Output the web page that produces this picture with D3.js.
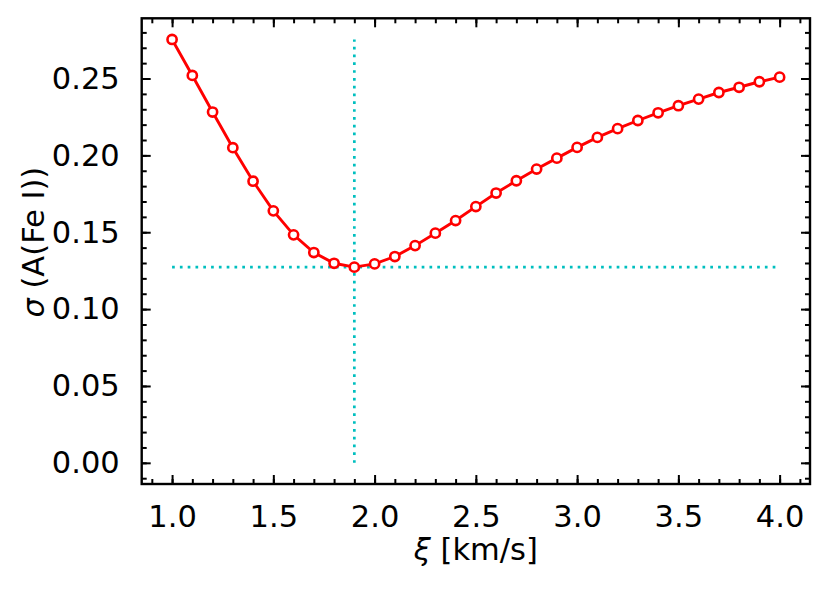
<!DOCTYPE html>
<html>
<head>
<meta charset="utf-8">
<script src="https://cdn.jsdelivr.net/npm/d3@7"></script>
<style>
  body { margin: 0; background: #fff; }
  text { font-family: "DejaVu Sans", sans-serif; fill: #000; }
</style>
</head>
<body>
<div id="chart"></div>
<script>
// microturbulence grid and scatter of A(Fe I)
var xi = [1.0, 1.1, 1.2, 1.3, 1.4, 1.5, 1.6, 1.7, 1.8, 1.9, 2.0,
          2.1, 2.2, 2.3, 2.4, 2.5, 2.6, 2.7, 2.8, 2.9, 3.0,
          3.1, 3.2, 3.3, 3.4, 3.5, 3.6, 3.7, 3.8, 3.9, 4.0];
var sigma = [0.2754, 0.2520, 0.2282, 0.2050, 0.1832, 0.1639, 0.1483, 0.1368, 0.1298, 0.1273, 0.1294,
             0.1342, 0.1413, 0.1494, 0.1576, 0.1667, 0.1755, 0.1835, 0.1911, 0.1982, 0.2052,
             0.2117, 0.2174, 0.2227, 0.2277, 0.2323, 0.2366, 0.2409, 0.2443, 0.2479, 0.2509];
var xTicks = [1.0, 1.5, 2.0, 2.5, 3.0, 3.5, 4.0];
var yTicks = [0.00, 0.05, 0.10, 0.15, 0.20, 0.25];

var W = 830, H = 591;
var margin = { top: 18.3, right: 20, bottom: 107, left: 141.7 },
    width = W - margin.left - margin.right,
    height = H - margin.top - margin.bottom;

var data = xi.map(function (d, i) { return { x: d, y: sigma[i] }; });

// matplotlib-like 5% padding
var xMin = d3.min(xi), xMax = d3.max(xi), yMin = 0, yMax = d3.max(sigma);
var x = d3.scaleLinear()
    .domain([xMin - 0.05 * (xMax - xMin), xMax + 0.05 * (xMax - xMin)])
    .range([0, width]);
var y = d3.scaleLinear()
    .domain([yMin - 0.05 * (yMax - yMin), yMax + 0.05 * (yMax - yMin)])
    .range([height, 0]);

var svg = d3.select("#chart").append("svg")
    .attr("width", W)
    .attr("height", H)
    .append("g")
    .attr("transform", "translate(" + margin.left + "," + margin.top + ")");

var best = data[d3.minIndex(data, function (d) { return d.y; })];
var cyan = "#00bfbf";

// dotted guide lines through the minimum
svg.append("line")
    .attr("x1", x(xMin)).attr("x2", x(xMax))
    .attr("y1", y(best.y)).attr("y2", y(best.y))
    .style("stroke", cyan).style("stroke-width", 2.7)
    .style("stroke-dasharray", "2.7,5.1");
svg.append("line")
    .attr("x1", x(best.x)).attr("x2", x(best.x))
    .attr("y1", y(0)).attr("y2", y(yMax))
    .style("stroke", cyan).style("stroke-width", 2.7)
    .style("stroke-dasharray", "2.7,5.1");

// the curve
var line = d3.line()
    .x(function (d) { return x(d.x); })
    .y(function (d) { return y(d.y); });
svg.append("path")
    .datum(data)
    .attr("d", line)
    .style("fill", "none")
    .style("stroke", "#ff0000")
    .style("stroke-width", 2.9);
svg.selectAll("circle.pt")
    .data(data)
    .enter().append("circle")
    .attr("class", "pt")
    .attr("cx", function (d) { return x(d.x); })
    .attr("cy", function (d) { return y(d.y); })
    .attr("r", 4.6)
    .style("fill", "#fff")
    .style("stroke", "#ff0000")
    .style("stroke-width", 2.6);

// ticks pointing inward on all four sides
var xMinor = d3.range(9, 42).map(function (d) { return d / 10; })
    .filter(function (d) { return d >= x.domain()[0] && d <= x.domain()[1]; });
var yMinor = d3.range(-1, 29).map(function (d) { return d / 100; })
    .filter(function (d) { return d >= y.domain()[0] && d <= y.domain()[1]; });
var fmtX = d3.format(".1f"), fmtY = d3.format(".2f");

function tickStyle(g) {
    g.select(".domain").remove();
    g.selectAll("line").style("stroke", "#000").style("stroke-width", 2);
}

svg.append("g").attr("transform", "translate(0," + height + ")")
    .call(d3.axisBottom(x).tickValues(xMinor).tickSize(-5).tickFormat(""))
    .call(tickStyle);
svg.append("g").call(d3.axisTop(x).tickValues(xMinor).tickSize(-5).tickFormat(""))
    .call(tickStyle);
svg.append("g").call(d3.axisLeft(y).tickValues(yMinor).tickSize(-5).tickFormat(""))
    .call(tickStyle);
svg.append("g").attr("transform", "translate(" + width + ",0)")
    .call(d3.axisRight(y).tickValues(yMinor).tickSize(-5).tickFormat(""))
    .call(tickStyle);

svg.append("g").attr("transform", "translate(0," + height + ")")
    .call(d3.axisBottom(x).tickValues(xTicks).tickSize(-9).tickPadding(21).tickFormat(fmtX))
    .call(tickStyle);
svg.append("g").call(d3.axisTop(x).tickValues(xTicks).tickSize(-9).tickFormat(""))
    .call(tickStyle);
svg.append("g")
    .call(d3.axisLeft(y).tickValues(yTicks).tickSize(-9).tickPadding(22).tickFormat(fmtY))
    .call(tickStyle);
svg.append("g").attr("transform", "translate(" + width + ",0)")
    .call(d3.axisRight(y).tickValues(yTicks).tickSize(-9).tickFormat(""))
    .call(tickStyle);

svg.selectAll(".tick text")
    .style("font-family", "DejaVu Sans, sans-serif")
    .style("font-size", "30.5px")
    .style("fill", "#000");

// frame
svg.append("rect")
    .attr("width", width).attr("height", height)
    .style("fill", "none").style("stroke", "#000").style("stroke-width", 2.4);

// axis titles
var xt = svg.append("text")
    .attr("x", width / 2)
    .attr("y", height + 76)
    .attr("text-anchor", "middle")
    .style("font-size", "30.5px");
xt.append("tspan").style("font-style", "italic").text("\u03BE");
xt.append("tspan").text(" [km/s]");

var yt = svg.append("text")
    .attr("transform", "translate(" + (44 - margin.left) + "," + (height / 2 - 9) + ") rotate(-90)")
    .attr("text-anchor", "middle")
    .style("font-size", "30.5px");
yt.append("tspan").style("font-style", "italic").text("\u03C3");
yt.append("tspan").text(" (A(Fe I))");
</script>
</body>
</html>
